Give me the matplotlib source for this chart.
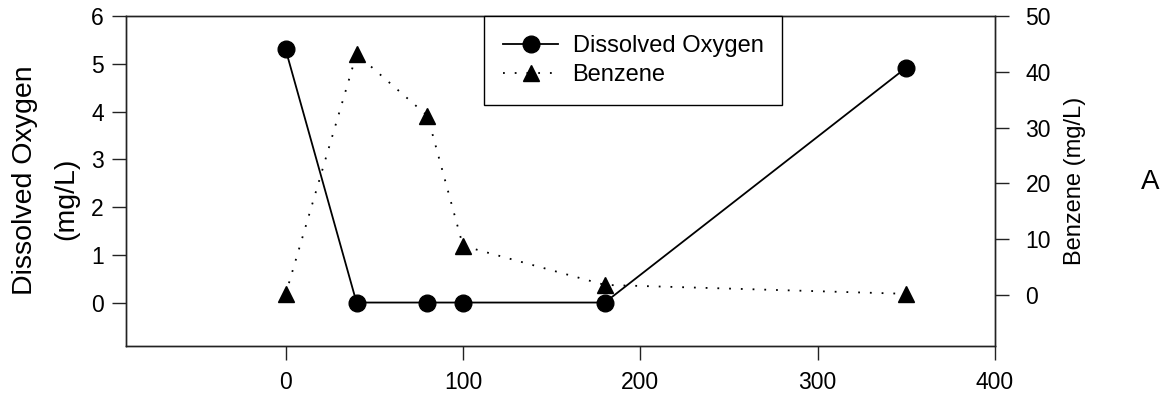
import matplotlib
matplotlib.use("Agg")
import matplotlib.pyplot as plt

plt.rcParams['font.family'] = ['Liberation Sans', 'DejaVu Sans']

# Data
days = [0, 40, 80, 100, 180, 350]
dissolved_oxygen = [5.30, 0.0, 0.0, 0.0, 0.0, 4.92]
benzene = [0.1, 43.2, 32.1, 8.8, 1.8, 0.2]
x_ticks = [0, 100, 200, 300, 400]
left_ticks = [0, 1, 2, 3, 4, 5, 6]
right_ticks = [0, 10, 20, 30, 40, 50]

W, H = 1169, 398
fig = plt.figure(figsize=(W / 100, H / 100), dpi=100)
ax = fig.add_axes([126 / W, 1 - 346 / H, (995 - 126) / W, (346 - 16) / H])
ax2 = ax.twinx()

l1, = ax.plot(days, dissolved_oxygen, color='black', lw=1.3, marker='o',
              markersize=12, label='Dissolved Oxygen', zorder=3)
l2, = ax2.plot(days, benzene, color='black', lw=1.3, linestyle=(0, (1, 5.5)),
               marker='^', markersize=11, label='Benzene', zorder=3)

ax.set_xlim(-90, 400)
ax.set_ylim(-0.91, 6)
ax2.set_ylim(-9.15, 50)
ax.set_xticks(x_ticks)
ax.set_yticks(left_ticks)
ax2.set_yticks(right_ticks)

for a in (ax, ax2):
    for s in a.spines.values():
        s.set_linewidth(1.0)
        s.set_color('#222222')
ax.tick_params(axis='x', direction='out', length=10, width=1, pad=8,
               labelsize=16.5, color='#222222')
ax.tick_params(axis='y', direction='out', length=10, width=1, pad=6,
               labelsize=16.5, color='#222222')
ax2.tick_params(axis='y', direction='out', length=10, width=1, pad=12,
                labelsize=16.5, color='#222222')

# y labels
fig.text(25 / W, 1 - 180 / H, 'Dissolved Oxygen', rotation=90,
         ha='center', va='center', fontsize=20.5)
fig.text(66 / W, 1 - 199 / H, '(mg/L)', rotation=90,
         ha='center', va='center', fontsize=20.5)
fig.text(1075 / W, 1 - 181 / H, 'Benzene (mg/L)', rotation=90,
         ha='center', va='center', fontsize=17)
fig.text(1150 / W, 1 - 182 / H, 'A', ha='center', va='center', fontsize=20)

leg = ax2.legend(handles=[l1, l2], loc='upper left',
                 bbox_to_anchor=(484 / W, 1 - 16 / H),
                 bbox_transform=fig.transFigure, borderaxespad=0,
                 numpoints=1, fontsize=17, handlelength=2.35,
                 handletextpad=0.6, borderpad=0.8, labelspacing=0.32,
                 fancybox=False, framealpha=1, edgecolor='black')
leg.get_frame().set_linewidth(1.0)

fig.savefig('out.png', dpi=100)
